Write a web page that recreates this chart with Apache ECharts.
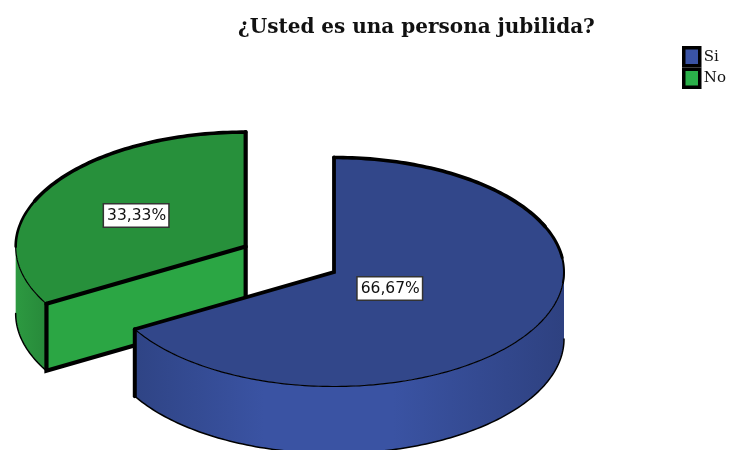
<!DOCTYPE html>
<html><head><meta charset="utf-8">
<style>html,body{margin:0;padding:0;background:#fff}#c{width:729px;height:450px;filter:blur(0.45px)}</style>
<script src="https://cdn.jsdelivr.net/npm/echarts@6/dist/echarts.min.js"></script>
</head><body><div id="c"></div>
<script>
const titleText = '¿Usted es una persona jubilida?';
const categories = ['Si', 'No'];
const values = [66.67, 33.33];

const chart = echarts.init(document.getElementById('c'), null, {renderer: 'canvas'});
const total = values.reduce((a, b) => a + b, 0);
const TAU = Math.PI * 2;
const geom = {cx: 334, cy: 272, rx: 230, ry: 114.5, depth: 67};
const look = [
  {top: '#32478a', legend: '#3a53a4', explode: 0, labelAt: 0.28,
   wall: [[0, '#2f4485'], [0.3, '#3a53a3'], [0.6, '#3a53a3'], [1, '#2e4180']], wallX: [135, 565]},
  {top: '#27903b', legend: '#2bb04a', explode: 102, labelAt: 0.55, cut: '#2ba644',
   wall: [[0, '#2d9a41'], [1, '#27893a']], wallX: [14, 47]}
];
let acc = 0;
const slices = values.map(v => { const a0 = acc / total * TAU; acc += v; return [a0, acc / total * TAU]; });

function renderSlice(i) {
  const [a0, a1] = slices[i], st = look[i], mid = (a0 + a1) / 2;
  const ox = geom.cx + st.explode * Math.sin(mid) * geom.rx / 230;
  const oy = geom.cy - st.explode * Math.cos(mid) * geom.ry / 230;
  const pt = (a, z) => [ox + geom.rx * Math.sin(a), oy - geom.ry * Math.cos(a) + (z || 0)];
  const arc = (s, e, z) => { const r = [], n = Math.max(2, Math.ceil(Math.abs(e - s) / 0.02));
    for (let k = 0; k <= n; k++) r.push(pt(s + (e - s) * k / n, z)); return r; };
  const kids = [];
  const line = (points, lw) => kids.push({type: 'polyline', shape: {points},
    style: {stroke: '#000', lineWidth: lw, fill: null, lineCap: 'round', lineJoin: 'miter'}});
  const d = geom.depth, c = [ox, oy];
  const ws = Math.max(a0, Math.PI / 2), we = Math.min(a1, Math.PI * 1.5);
  // outer wall
  kids.push({type: 'polygon', shape: {points: arc(ws, we).concat(arc(we, ws, d))},
    style: {fill: new echarts.graphic.LinearGradient(st.wallX[0], 0, st.wallX[1], 0,
      st.wall.map(s => ({offset: s[0], color: s[1]})), true)}});
  line(arc(ws, we, d), 1.5);
  // visible cut face (faces the viewer when the slice ends on the lower left)
  if (st.cut) {
    const p = pt(a0);
    kids.push({type: 'polygon', shape: {points: [p, c, [ox, oy + d], [p[0], p[1] + d]]},
      style: {fill: st.cut}});
  }
  // top face
  kids.push({type: 'polygon', shape: {points: [c].concat(arc(a0, a1))}, style: {fill: st.top}});
  line(arc(ws, we), 1.2);
  // rim (thick on the back, tapering to the side)
  if (a0 < Math.PI / 2) {
    line(arc(a0, Math.PI * 0.37), 3.6);
    line(arc(Math.PI * 0.36, Math.PI * 0.46), 3);
    line(arc(Math.PI * 0.45, Math.PI * 0.53), 2);
  }
  if (a1 > Math.PI * 1.5) {
    line(arc(Math.PI * 1.63, a1), 3.6);
    line(arc(Math.PI * 1.5, Math.PI * 1.64), 2.6);
  }
  if (!st.cut) {
    const p = pt(a1);
    line([pt(a0), c, p], 3.8);
    line([p, [p[0], p[1] + d]], 4);
  } else {
    const p = pt(a0);
    line([pt(a1), [ox, oy + d]], 4.2);
    line([p, c], 4.2);
    line([p, [p[0], p[1] + d], [ox, oy + d]], 4.2);
  }
  // percentage label
  const lx = ox + geom.rx * st.labelAt * Math.sin(mid);
  const ly = oy - geom.ry * st.labelAt * Math.cos(mid);
  kids.push({type: 'text', x: lx, y: ly + 0.5, style: {
    text: values[i].toFixed(2).replace('.', ',') + '%',
    x: 0, y: 0, align: 'center', verticalAlign: 'middle',
    font: '15.5px "DejaVu Sans"', fill: '#111',
    backgroundColor: '#fff', borderColor: '#333', borderWidth: 1.5, padding: [3, 2, 3, 3]}});
  return {type: 'group', children: kids};
}

chart.setOption({
  animation: false,
  backgroundColor: '#fff',
  title: {text: titleText, left: 238, top: 18, padding: 0,
    textStyle: {fontFamily: '"DejaVu Serif"', fontWeight: 'bold', fontSize: 20, color: '#111'}},
  legend: {
    orient: 'vertical', left: 682, top: 46, padding: 0, itemWidth: 16, itemHeight: 18, itemGap: 0,
    selectedMode: false, textStyle: {fontFamily: '"DejaVu Serif"', fontSize: 15, color: '#111', padding: [0, 0, 0, -1]},
    data: categories.map((n, i) => ({name: n, icon: 'rect',
      itemStyle: {color: look[i].legend, borderColor: '#000', borderWidth: 3.5}}))
  },
  series: [1, 0].map(i => ({
    type: 'custom', name: categories[i], coordinateSystem: 'none',
    itemStyle: {color: look[i].legend},
    data: [values[i]],
    renderItem: () => renderSlice(i)
  }))
});
</script></body></html>
